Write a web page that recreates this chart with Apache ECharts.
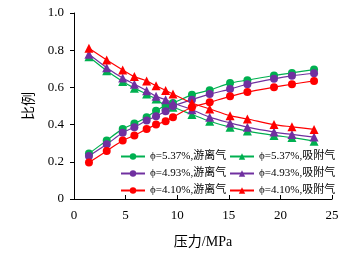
<!DOCTYPE html>
<html>
<head>
<meta charset="utf-8">
<script src="https://cdn.jsdelivr.net/npm/echarts@6/dist/echarts.min.js"></script>
<style>
  html, body { margin: 0; padding: 0; background: #fff; }
  #main { width: 354px; height: 254px; }
</style>
</head>
<body>
<div id="main"></div>
<script>
// 压力 (MPa)
var pressure = [1.45, 3.17, 4.72, 5.85, 7.04, 7.95, 8.88, 9.59, 11.43, 13.15, 15.12, 16.8, 19.38, 21.12, 23.26];

// 游离气比例
var free537 = [0.244, 0.315, 0.377, 0.406, 0.440, 0.475, 0.502, 0.516, 0.560, 0.585, 0.623, 0.639, 0.664, 0.678, 0.696];
var free493 = [0.231, 0.294, 0.356, 0.386, 0.422, 0.445, 0.472, 0.500, 0.534, 0.564, 0.591, 0.617, 0.646, 0.662, 0.676];
var free410 = [0.196, 0.258, 0.315, 0.342, 0.377, 0.400, 0.418, 0.440, 0.493, 0.520, 0.552, 0.575, 0.601, 0.617, 0.635];

// 吸附气比例
var ads537 = [0.765, 0.690, 0.632, 0.596, 0.564, 0.537, 0.500, 0.493, 0.454, 0.418, 0.386, 0.365, 0.342, 0.330, 0.311];
var ads493 = [0.778, 0.706, 0.650, 0.617, 0.582, 0.552, 0.534, 0.516, 0.480, 0.440, 0.409, 0.386, 0.360, 0.347, 0.333];
var ads410 = [0.810, 0.747, 0.694, 0.658, 0.635, 0.609, 0.584, 0.564, 0.516, 0.484, 0.448, 0.430, 0.400, 0.388, 0.374];

var freeNames = ['ϕ=5.37%,游离气', 'ϕ=4.93%,游离气', 'ϕ=4.10%,游离气'];
var adsNames = ['ϕ=5.37%,吸附气', 'ϕ=4.93%,吸附气', 'ϕ=4.10%,吸附气'];

var serif = '"Liberation Serif", "Noto Sans CJK SC", serif';

function pairs(ys) {
    var out = [];
    for (var i = 0; i < pressure.length; i++) {
        out.push([pressure[i], ys[i]]);
    }
    return out;
}

function mkSeries(name, ys, color, symbol) {
    return {
        name: name,
        type: 'line',
        data: pairs(ys),
        smooth: 0.3,
        symbol: symbol,
        symbolSize: symbol == 'circle' ? 8 : 9,
        itemStyle: { color: color },
        lineStyle: { color: color, width: 1.2 }
    };
}

function mkLegend(left, names) {
    return {
        orient: 'vertical',
        left: left,
        top: 151,
        itemWidth: 24,
        itemHeight: 8,
        itemGap: 6,
        padding: 0,
        textStyle: { fontFamily: serif, fontSize: 11, color: '#000' },
        data: names
    };
}

var myChart = echarts.init(document.getElementById('main'));
var option = {
    animation: false,
    grid: { left: 74, right: 22, top: 13, bottom: 54 },
    legend: [mkLegend(120, freeNames), mkLegend(229, adsNames)],
    xAxis: {
        type: 'value',
        min: 0, max: 25, interval: 5,
        name: '压力/MPa',
        nameLocation: 'middle',
        nameGap: 36,
        nameTextStyle: { fontFamily: serif, fontSize: 14, color: '#000' },
        axisLine: { lineStyle: { color: '#000', width: 1 } },
        axisTick: { inside: true, length: 4, lineStyle: { color: '#000' } },
        axisLabel: { fontFamily: serif, fontSize: 13, color: '#000', margin: 10 },
        splitLine: { show: false }
    },
    yAxis: {
        type: 'value',
        min: 0, max: 1, interval: 0.2,
        name: '比例',
        nameLocation: 'middle',
        nameGap: 38,
        nameTextStyle: { fontFamily: serif, fontSize: 14, color: '#000' },
        axisLine: { show: true, lineStyle: { color: '#000', width: 1 } },
        axisTick: { show: true, length: 4, lineStyle: { color: '#000' } },
        axisLabel: {
            fontFamily: serif, fontSize: 13, color: '#000', margin: 10,
            formatter: function (v) { return v == 0 ? '0' : v.toFixed(1); }
        },
        splitLine: { show: false }
    },
    series: [
        mkSeries(freeNames[0], free537, '#00b050', 'circle'),
        mkSeries(adsNames[0], ads537, '#00b050', 'triangle'),
        mkSeries(freeNames[1], free493, '#7030a0', 'circle'),
        mkSeries(adsNames[1], ads493, '#7030a0', 'triangle'),
        mkSeries(freeNames[2], free410, '#ff0000', 'circle'),
        mkSeries(adsNames[2], ads410, '#ff0000', 'triangle')
    ]
};
myChart.setOption(option);
</script>
</body>
</html>
